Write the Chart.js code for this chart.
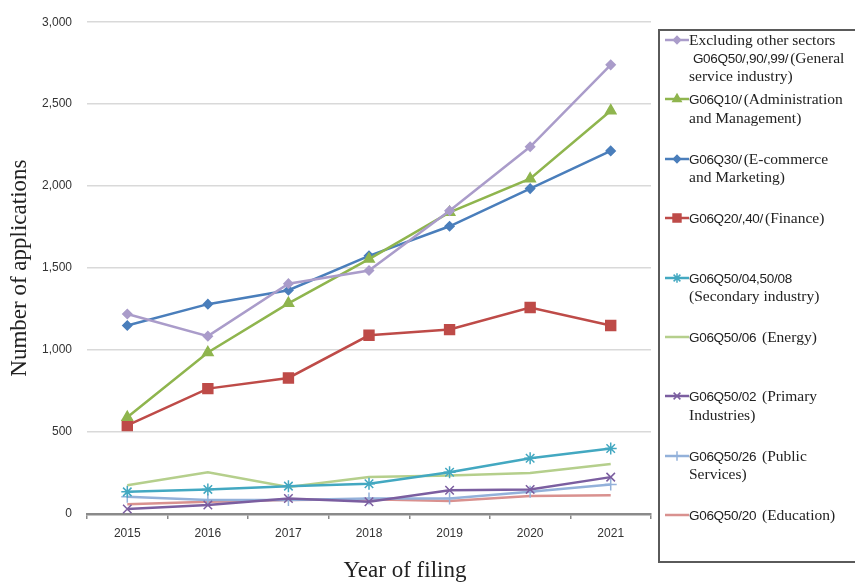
<!DOCTYPE html>
<html>
<head>
<meta charset="utf-8">
<script src="https://cdn.jsdelivr.net/npm/chart.js@4.4.0/dist/chart.umd.min.js"></script>
<style>
  html, body { margin: 0; padding: 0; background: #fff; overflow: hidden; }
  #wrap { position: relative; width: 855px; height: 582px; }
  #legend {
    position: absolute; left: 658px; top: 29px; width: 210px; height: 534px;
    border: 2px solid #5a5a5a; box-sizing: border-box;
    font-family: "Liberation Serif", "DejaVu Serif", serif; font-size: 15.5px; color: #222;
  }
  .item { position: absolute; left: 0; }
  .item canvas { position: absolute; left: 2px; top: 0; }
  .item .txt { position: absolute; left: 29px; top: 0; white-space: pre; line-height: 17.5px; }
  .code { font-family: "Liberation Sans", sans-serif; font-size: 13.5px; letter-spacing: -0.3px; margin-right: 2px; }
</style>
</head>
<body>
<div id="wrap">
  <canvas id="perfChart" width="855" height="582"></canvas>
  <div id="legend"></div>
</div>
<script>
// data
const years = ['2015', '2016', '2017', '2018', '2019', '2020', '2021']
const yTicks = [0, 500, 1000, 1500, 2000, 2500, 3000]

const generalService = [1220, 1085, 1405, 1485, 1850, 2240, 2740]
const adminMgmt      = [590, 985, 1285, 1555, 1840, 2045, 2460]
const ecommerce      = [1150, 1280, 1365, 1575, 1755, 1985, 2215]
const finance        = [540, 765, 830, 1090, 1125, 1260, 1150]
const secondary      = [135, 150, 170, 185, 255, 340, 400]
const energy         = [175, 255, 165, 225, 235, 250, 305]
const primary        = [30, 55, 95, 75, 145, 150, 225]
const publicSvc      = [105, 85, 85, 95, 95, 135, 180]
const education      = [60, 75, 85, 90, 80, 110, 115]

const seriesLabels = [
  'Excluding other sectors\n G06Q50/,90/,99/(General\nservice industry)',
  'G06Q10/(Administration\nand Management)',
  'G06Q30/(E-commerce\nand Marketing)',
  'G06Q20/,40/(Finance)',
  'G06Q50/04,50/08\n(Secondary industry)',
  'G06Q50/06 (Energy)',
  'G06Q50/02 (Primary\nIndustries)',
  'G06Q50/26 (Public\nServices)',
  'G06Q50/20 (Education)'
]
const seriesValues = [generalService, adminMgmt, ecommerce, finance, secondary, energy, primary, publicSvc, education]

const styles = [
  { color: '#aa9cca', point: 'rectRot', r: 4.5 },
  { color: '#8fb54e', point: 'triangle', r: 6 },
  { color: '#4a7ebb', point: 'rectRot', r: 4.5 },
  { color: '#be4b48', point: 'rect', r: 7 },
  { color: '#43a8c1', point: 'star', r: 6 },
  { color: '#b5cf8c', point: false, r: 0 },
  { color: '#7b5ea0', point: 'crossRot', r: 6 },
  { color: '#93b1da', point: 'cross', r: 6 },
  { color: '#d9918f', point: false, r: 0 }
]

const datasets = seriesValues.map((vals, i) => {
  const s = styles[i]
  return {
    label: seriesLabels[i],
    data: vals,
    borderColor: s.color,
    backgroundColor: s.color,
    borderWidth: 2.5,
    tension: 0,
    pointStyle: s.point,
    pointRadius: s.r,
    pointBorderWidth: 1.5,
    pointBackgroundColor: s.color,
    pointBorderColor: s.color
  }
})

const tickFont = { family: '"Liberation Sans", Arial, sans-serif', size: 12 }
const titleFont = { family: '"Liberation Serif", "DejaVu Serif", serif', size: 23, lineHeight: 1 }

// the x title sits right of the plot centre in the reference
const xTitlePlugin = {
  id: 'xTitle',
  afterDraw(chart) {
    const ctx = chart.ctx
    const area = chart.chartArea
    ctx.save()
    ctx.font = titleFont.size + 'px ' + titleFont.family
    ctx.fillStyle = '#222'
    ctx.textAlign = 'center'
    ctx.textBaseline = 'middle'
    ctx.fillText('Year of filing', (area.left + area.right) / 2 + 36, chart.height - 11)
    ctx.restore()
  }
}

const chartConfig = {
  type: 'line',
  data: { labels: years, datasets: datasets },
  plugins: [xTitlePlugin],
  options: {
    responsive: false,
    animation: false,
    devicePixelRatio: 1,
    layout: { padding: { left: 0, top: 19, right: 204, bottom: 0 } },
    plugins: { legend: { display: false }, tooltip: { enabled: false } },
    scales: {
      x: {
        offset: true,
        grid: { offset: true, drawOnChartArea: false, drawTicks: true, tickLength: 5, color: '#8a8a8a', lineWidth: 1.5 },
        border: { display: true, color: '#8a8a8a', width: 2.5 },
        ticks: { font: tickFont, color: '#333', padding: 7, maxRotation: 0 },
        title: { display: false },
        afterFit: (scale) => { scale.height = 68 }
      },
      y: {
        min: 0,
        max: 3000,
        afterBuildTicks: (scale) => { scale.ticks = yTicks.map(v => ({ value: v })) },
        grid: { drawTicks: false, color: '#d9d9d9', lineWidth: 1.5 },
        border: { display: false },
        ticks: {
          font: tickFont, color: '#333', padding: 15,
          callback: (value) => value.toLocaleString('en-US')
        },
        title: { display: true, text: 'Number of applications', font: titleFont, color: '#222', padding: { top: 8, bottom: 0 } },
        afterFit: (scale) => { scale.width = 87 }
      }
    }
  }
}

var perfChart = new Chart(document.getElementById('perfChart').getContext('2d'), chartConfig)

// html legend, needed for the wrapped labels
const legendBox = document.getElementById('legend')
const itemStep = 59.4
seriesLabels.forEach((label, i) => {
  const s = styles[i]
  const item = document.createElement('div')
  item.className = 'item'
  item.style.top = (40 + i * itemStep - 29 - 2 - 9) + 'px'

  const c = document.createElement('canvas')
  c.width = 27
  c.height = 18
  const ctx = c.getContext('2d')
  ctx.strokeStyle = s.color
  ctx.fillStyle = s.color
  ctx.lineWidth = 2.5
  ctx.beginPath()
  ctx.moveTo(3, 9)
  ctx.lineTo(27, 9)
  ctx.stroke()
  if (s.point && Chart.helpers && Chart.helpers.drawPoint) {
    ctx.lineWidth = 1.5
    Chart.helpers.drawPoint(ctx, { pointStyle: s.point, radius: s.r * 0.8, rotation: 0, borderWidth: 1.5 }, 15, 9)
  }
  item.appendChild(c)

  const txt = document.createElement('div')
  txt.className = 'txt'
  txt.innerHTML = label.replace(/G06Q[0-9\/,]+/g, (m) => '<span class="code">' + m + '</span>')
  item.appendChild(txt)
  legendBox.appendChild(item)
})
</script>
</body>
</html>
